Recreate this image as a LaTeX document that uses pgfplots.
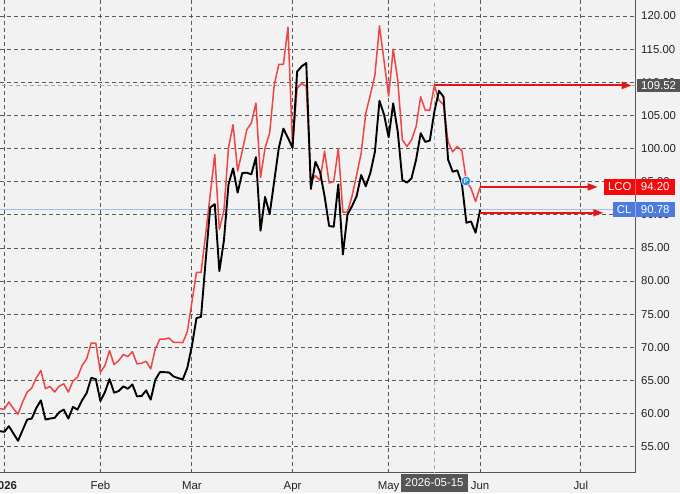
\documentclass[border=0pt]{standalone}
\usepackage{fontspec}
\setmainfont{Liberation Sans}
\usepackage{pgfplots}
\usepackage{pgfplotstable}
\pgfplotsset{compat=1.18}
\usetikzlibrary{arrows.meta}

\definecolor{bg}{HTML}{F2F2F2}
\definecolor{gridc}{HTML}{5A5A5A}
\definecolor{axisc}{HTML}{555555}
\definecolor{labc}{HTML}{222222}
\definecolor{lcoc}{HTML}{F04545}
\definecolor{arrowc}{HTML}{E61414}
\definecolor{boxred}{HTML}{F50A0A}
\definecolor{boxblue}{HTML}{4C7BDD}
\definecolor{boxgrey}{HTML}{555555}
\definecolor{hlinec}{HTML}{A6BCEA}
\definecolor{crossc}{HTML}{A8A8A8}
\definecolor{pblue}{HTML}{2A8FE6}

% trading day index (0 = 1 Jan 2026), CL close, LCO close
\pgfplotstableread{
day cl lco
-1 57.35 60.75
0 57.25 60.65
1 58.10 61.75
2 57.00 60.75
3 55.90 59.90
4 57.50 61.75
5 59.10 63.25
6 59.25 63.85
7 60.85 65.40
8 62.00 66.50
9 59.10 63.75
10 59.25 64.10
11 59.35 63.25
12 60.20 64.15
13 60.60 64.50
14 59.25 63.25
15 61.00 64.90
16 60.60 65.50
17 62.00 67.25
18 63.10 68.25
19 65.40 70.65
20 65.20 70.65
21 61.90 66.25
22 63.25 67.25
23 65.20 69.50
24 63.15 67.40
25 63.40 68.00
26 64.10 68.90
27 63.75 68.60
28 64.40 69.35
29 62.60 67.50
30 62.65 67.60
31 63.50 67.90
32 62.10 66.75
33 65.10 69.75
34 66.25 71.25
35 66.25 71.25
36 66.20 71.40
37 65.60 70.75
38 65.35 70.75
39 65.15 70.70
40 66.90 72.35
41 70.20 76.80
42 74.40 81.30
43 74.60 81.30
44 83.00 87.00
45 91.10 93.00
46 91.60 99.10
47 81.50 87.80
48 86.10 90.60
49 94.60 100.10
50 97.00 103.60
51 93.35 96.60
52 96.30 99.60
53 96.35 102.85
54 96.10 103.85
55 98.70 106.85
56 87.60 95.60
57 92.70 100.10
58 90.10 102.35
59 95.10 109.60
60 100.10 112.70
61 103.00 112.70
62 101.60 118.30
63 100.10 100.30
64 111.60 109.10
65 112.40 109.80
66 112.90 109.40
67 93.90 95.00
68 98.00 95.90
69 96.50 95.20
70 92.80 99.60
71 88.30 94.80
72 88.20 95.00
73 94.60 100.00
74 84.00 90.40
75 90.00 90.40
76 91.30 92.80
77 92.80 96.00
78 96.00 99.30
79 94.30 105.30
80 96.30 108.10
81 99.50 111.10
82 107.20 118.50
83 105.10 113.20
84 101.70 107.90
85 106.80 115.00
86 102.50 110.30
87 95.25 101.30
88 94.85 100.30
89 95.50 101.30
90 98.30 103.30
91 102.30 107.80
92 101.00 105.80
93 101.20 105.80
94 105.60 109.50
95 108.70 107.30
96 107.80 106.60
97 98.30 101.00
98 96.50 99.50
99 96.70 100.30
100 94.75 99.70
101 88.80 95.00
102 89.00 94.00
103 87.30 92.00
104 90.78 94.20
}\prices

\begin{document}
\begin{tikzpicture}
\fill[bg] (0,0) rectangle (680pt,493pt);
\begin{axis}[
  at={(0pt,20.3pt)}, anchor=south west,
  scale only axis, width=635.7pt, height=472.7pt,
  xmin=-0.94, xmax=138, ymin=51.08, ymax=122.41,
  axis x line*=bottom, axis y line*=right,
  axis line style={draw=axisc, line width=0.9pt},
  xtick={0,21,41,63,84,104,126},
  xticklabels={\textbf{2026},Feb,Mar,Apr,May,Jun,Jul},
  ytick={55,60,...,120},
  yticklabels={55.00,60.00,65.00,70.00,75.00,80.00,85.00,90.00,95.00,100.00,105.00,110.00,115.00,120.00},
  yticklabel pos=right,
  grid=major,
  major grid style={gridc, line width=0.8pt, dash pattern=on 4pt off 3pt},
  major tick length=0pt,
  tick label style={font=\fontsize{11.4}{13}\selectfont, text=labc},
  xticklabel style={anchor=base, yshift=-16.3pt},
  yticklabel style={anchor=west, inner xsep=0pt, xshift=5.3pt},
]
% crosshair at 2026-05-15 and the blue CL level line
\addplot[crossc, line width=0.8pt, dash pattern=on 4pt off 3pt] coordinates {(94,40) (94,130)};
\addplot[crossc, line width=0.8pt, dash pattern=on 4pt off 3pt] coordinates {(-2,109.52) (140,109.52)};
\addplot[hlinec, line width=1pt] coordinates {(-2,90.78) (140,90.78)};

\addplot[lcoc, line width=1.5pt, line join=round] table[x=day, y=lco] {\prices};
\addplot[black, line width=1.9pt, line join=round] table[x=day, y=cl] {\prices};

\addplot[only marks, mark=*, mark size=4.8pt,
  mark options={fill=pblue, draw=white, line width=0.5pt},
  nodes near coords={P},
  every node near coord/.append style={anchor=center, text=white,
    font=\fontsize{6.5}{6.5}\selectfont\bfseries}]
  coordinates {(100.9,95.1)};

\coordinate (hi) at (axis cs:94,109.52);
\coordinate (lco) at (axis cs:104,94.20);
\coordinate (cla) at (axis cs:104,90.30);
\coordinate (cl) at (axis cs:104,90.78);
\coordinate (ax) at (rel axis cs:1,0);
\coordinate (dt) at (axis cs:94,51.08);
\end{axis}

\begin{scope}[font=\fontsize{11.4}{13}\selectfont]
\draw[arrowc, line width=1.9pt, -{Triangle[length=10pt,width=7pt]}] (hi) -- ([xshift=-4pt]hi -| ax);
\draw[arrowc, line width=1.9pt, -{Triangle[length=10pt,width=7pt]}] (lco) -- ([xshift=-38pt]lco -| ax);
\draw[arrowc, line width=1.9pt, -{Triangle[length=10pt,width=7pt]}] (cla) -- ([xshift=-32.4pt]cla -| ax);

\node[fill=boxgrey, text=white, anchor=west, minimum height=12.6pt, minimum width=43.3pt, inner sep=0pt] at ([xshift=1pt]hi -| ax) {109.52};

\node[fill=boxred, text=white, anchor=east, minimum height=16.3pt, inner xsep=4pt, inner ysep=0pt] at (lco -| ax) {LCO};
\node[fill=boxred, text=white, anchor=west, minimum height=16.3pt, minimum width=38.6pt, inner sep=0pt] at (lco -| ax) {94.20};
\node[fill=boxblue, text=white, anchor=east, minimum height=15pt, inner xsep=4pt, inner ysep=0pt] at (cl -| ax) {CL};
\node[fill=boxblue, text=white, anchor=west, minimum height=15pt, minimum width=38.6pt, inner sep=0pt] at (cl -| ax) {90.78};
\draw[white, opacity=0.4, line width=0.8pt] ([yshift=-8.1pt]lco -| ax) -- ([yshift=8.1pt]lco -| ax);
\draw[white, opacity=0.4, line width=0.8pt] ([yshift=-7.5pt]cl -| ax) -- ([yshift=7.5pt]cl -| ax);

\node[fill=boxgrey, text=white, minimum height=17.7pt, minimum width=66.7pt, inner sep=0pt] at ([yshift=-10.15pt]dt) {2026-05-15};
\end{scope}

\pgfresetboundingbox
\useasboundingbox (0,0) rectangle (680pt,493pt);
\end{tikzpicture}
\end{document}
